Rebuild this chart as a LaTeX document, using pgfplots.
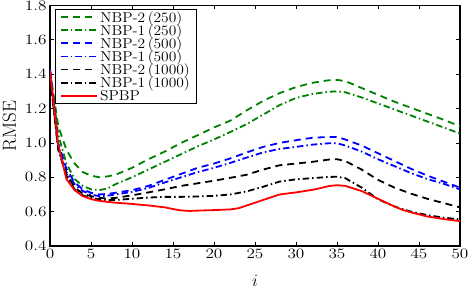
\documentclass[border=0pt]{standalone}
\usepackage{graphicx}
\usepackage{pgfplots}
\usepackage{pgfplotstable}
\pgfplotsset{compat=1.18}
\definecolor{mgreen}{rgb}{0,0.5,0}
\newcommand\hs[2][1.2]{\scalebox{#1}[1]{#2}}
\newcommand\hy{\mathchar28717\relax}
\newcommand\lgd[1]{\fontsize{14.4}{16}\selectfont\rule[-3.6bp]{0pt}{15.2bp}\scalebox{1.08}[1]{$\mathrm{#1}$}}
\pgfplotsset{myleg/.style={legend image code/.code={\draw[#1] (0bp,0bp) -- (36bp,0bp);}}}
\pgfplotstableread{
i   g2    g1    b2    b1    k2    k1
0   1.42  1.42  1.43  1.42  1.40  1.39
1   1.10  1.05  1.00  0.98  0.97  0.96
2   0.96  0.88  0.85  0.83  0.82  0.81
3   0.88  0.79  0.77  0.76  0.74  0.73
4   0.83  0.75  0.73  0.72  0.705 0.695
5   0.81  0.73  0.71  0.70  0.69  0.68
6   0.80  0.725 0.70  0.69  0.68  0.672
7   0.805 0.735 0.703 0.693 0.677 0.667
8   0.815 0.76  0.71  0.70  0.68  0.668
10  0.855 0.80  0.725 0.715 0.695 0.675
12  0.905 0.845 0.75  0.738 0.712 0.682
14  0.95  0.89  0.785 0.77  0.73  0.686
16  1.0   0.935 0.82  0.80  0.75  0.686
18  1.045 0.98  0.855 0.83  0.765 0.688
20  1.09  1.02  0.88  0.855 0.78  0.692
22  1.13  1.064 0.91  0.884 0.797 0.70
24  1.19  1.11  0.945 0.915 0.815 0.718
26  1.245 1.165 0.977 0.945 0.845 0.745
28  1.29  1.22  1.0   0.965 0.87  0.775
30  1.325 1.262 1.016 0.977 0.88  0.788
32  1.35  1.285 1.03  0.99  0.89  0.795
34  1.365 1.298 1.035 0.998 0.903 0.802
35  1.367 1.30  1.035 0.998 0.905 0.803
36  1.36  1.295 1.02  0.985 0.895 0.795
38  1.32  1.265 0.985 0.95  0.845 0.74
40  1.28  1.23  0.94  0.905 0.785 0.672
42  1.24  1.195 0.895 0.865 0.74  0.63
44  1.205 1.16  0.85  0.825 0.705 0.60
46  1.17  1.125 0.81  0.79  0.675 0.58
48  1.135 1.09  0.775 0.762 0.65  0.565
50  1.097 1.055 0.74  0.73  0.625 0.555
}\nbp
\pgfplotstableread{
i  r
0  1.42
1  0.99
2  0.79
3  0.725
4  0.69
5  0.673
6  0.663
7  0.657
8  0.652
10 0.645
12 0.636
14 0.625
15 0.615
16 0.607
17 0.604
18 0.606
20 0.609
22 0.613
23 0.62
24 0.636
25 0.652
26 0.668
28 0.70
30 0.712
32 0.727
33 0.737
34 0.749
35 0.754
36 0.75
38 0.72
40 0.675
42 0.63
43 0.61
44 0.596
46 0.572
48 0.557
50 0.545
}\spbp
\begin{document}
\begin{tikzpicture}
\begin{axis}[
  scale only axis, width=410bp, height=240.5bp,
  xmin=0, xmax=50, ymin=0.4, ymax=1.8,
  xtick={0,5,10,15,20,25,30,35,40,45,50},
  ytick={0.4,0.6,0.8,1.0,1.2,1.4,1.6,1.8},
  xticklabel={\fontsize{14.4}{16}\selectfont\hs{$\pgfmathprintnumber{\tick}$}},
  yticklabel={\fontsize{14.4}{16}\selectfont\hs{$\pgfmathprintnumber[fixed,fixed zerofill,precision=1]{\tick}$}},
  axis line style={line width=1.4bp},
  every tick/.style={black, line width=0.8bp},
  major tick length=4bp,
  tick align=inside,
  every axis x label/.style={at={(axis description cs:0.5,0)}, anchor=base, yshift=-40bp, inner sep=0pt},
  every axis y label/.style={at={(axis description cs:0,0.5)}, xshift=-34bp, rotate=90, anchor=base, inner sep=0pt},
  xlabel={\fontsize{17.28}{20}\selectfont$i$},
  ylabel={\fontsize{17.28}{20}\selectfont\scalebox{1.1}{$\mathrm{RMSE}$}},
  myleg,
  legend style={at={(0,1)}, anchor=north west, xshift=5bp, yshift=-4bp,
    draw=black, line width=0.7bp, fill=white,
    inner xsep=5bp, inner ysep=0.8bp, row sep=0bp, column sep=0.5bp,
    nodes={inner xsep=1.5bp, inner ysep=0bp},
    cells={anchor=west}},
  every axis plot/.append style={line width=1.8bp},
]
\coordinate (sw) at (rel axis cs:0,0);
\addplot[mgreen, dash pattern=on 7bp off 5bp] table[x=i,y=g2] {\nbp};
\addlegendentry{\lgd{NBP\hy 2\,(250)}}
\addplot[mgreen, dash pattern=on 6.5bp off 3bp on 1.5bp off 3bp] table[x=i,y=g1] {\nbp};
\addlegendentry{\lgd{NBP\hy 1\,(250)}}
\addplot[blue, dash pattern=on 7bp off 5bp] table[x=i,y=b2] {\nbp};
\addlegendentry{\lgd{NBP\hy 2\,(500)}}
\addplot[blue, dash pattern=on 6.5bp off 3bp on 1.5bp off 3bp] table[x=i,y=b1] {\nbp};
\addlegendentry{\lgd{NBP\hy 1\,(500)}}
\addplot[black, dash pattern=on 7bp off 5bp] table[x=i,y=k2] {\nbp};
\addlegendentry{\lgd{NBP\hy 2\,(1000)}}
\addplot[black, dash pattern=on 6.5bp off 3bp on 1.5bp off 3bp] table[x=i,y=k1] {\nbp};
\addlegendentry{\lgd{NBP\hy 1\,(1000)}}
\addplot[red, solid] table[x=i,y=r] {\spbp};
\addlegendentry{\lgd{SPBP}}
\end{axis}
\pgfresetboundingbox
\path[use as bounding box] ([shift={(-50bp,-42bp)}]sw) rectangle ++(468bp,288bp);
\end{tikzpicture}
\end{document}
